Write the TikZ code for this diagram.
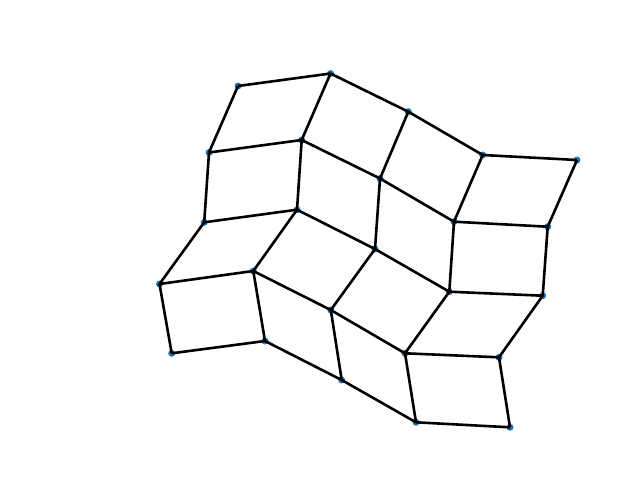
\documentclass[tikz,border=0pt]{standalone}
\definecolor{mplblue}{HTML}{1F77B4}
\tikzset{
  vtx/.style={circle,fill=mplblue,inner sep=0pt,minimum size=7pt},
  edge/.style={draw=black,line width=2.6pt}
}
\begin{document}
\begin{tikzpicture}[x=1pt,y=-1pt]
\useasboundingbox (0,0) rectangle (640,480);
\node[vtx] (A) at (238,86) {};
\node[vtx] (B) at (330.5,73.5) {};
\node[vtx] (C) at (408.3,111.7) {};
\node[vtx] (D) at (482.7,155) {};
\node[vtx] (E) at (577,160) {};
\node[vtx] (F) at (209,152.5) {};
\node[vtx] (G) at (301.7,140) {};
\node[vtx] (H) at (380,178.5) {};
\node[vtx] (I) at (454,221.7) {};
\node[vtx] (J) at (547.7,226.7) {};
\node[vtx] (K) at (204.2,222.3) {};
\node[vtx] (L) at (297,209.7) {};
\node[vtx] (M) at (375,249) {};
\node[vtx] (N) at (449.3,291.7) {};
\node[vtx] (O) at (542.7,295.7) {};
\node[vtx] (P) at (159.5,284) {};
\node[vtx] (Q) at (253.3,271) {};
\node[vtx] (R) at (330.8,310) {};
\node[vtx] (S) at (405,353.3) {};
\node[vtx] (T) at (499,357.3) {};
\node[vtx] (U) at (171.7,353.3) {};
\node[vtx] (V) at (265,341) {};
\node[vtx] (W) at (341.7,380) {};
\node[vtx] (X) at (416,422.3) {};
\node[vtx] (Y) at (510,427.3) {};
\foreach \a/\b in {A/B,A/F,B/C,B/G,C/D,C/H,D/E,D/I,E/J,F/G,F/K,G/H,G/L,H/I,H/M,I/J,I/N,J/O,K/L,K/P,L/M,L/Q,M/N,M/R,N/O,N/S,O/T,P/Q,P/U,Q/R,Q/V,R/S,R/W,S/T,S/X,T/Y,U/V,V/W,W/X,X/Y}
  \draw[edge] (\a.center) -- (\b.center);
\end{tikzpicture}
\end{document}
